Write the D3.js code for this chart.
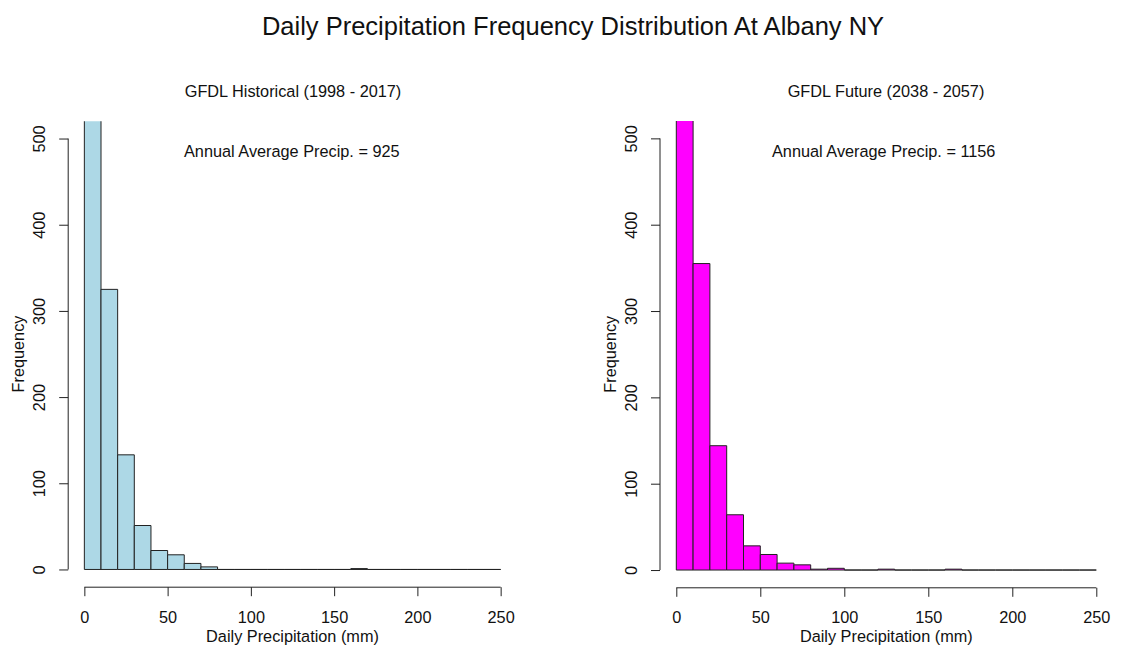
<!DOCTYPE html>
<html>
<head>
<meta charset="utf-8">
<script src="https://cdn.jsdelivr.net/npm/d3@7"></script>
<style>
  body { margin: 0; background: #fff; }
  svg { display: block; }
  text { font-family: "Liberation Sans", Arial, sans-serif; fill: #111; }
</style>
</head>
<body>
<svg id="chart" width="1125" height="650"></svg>
<script>
// Histogram bins: 10 mm wide, from 0 to 250 mm
const binEdges = d3.range(0, 260, 10);
// Daily precipitation counts per bin
const historicalCounts = [1149, 325, 133, 51, 22, 17, 7, 3, 0, 0, 0, 0, 0, 0, 0, 0, 1, 0, 0, 0, 0, 0, 0, 0, 0];
const futureCounts     = [1634, 355, 144, 64, 28, 18, 8, 6, 1, 2, 0, 0, 1, 0, 0, 0, 1, 0, 0, 0, 0, 0, 0, 0, 0];
const xTicks = [0, 50, 100, 150, 200, 250];
const yTicks = [0, 100, 200, 300, 400, 500];
const mainTitle = "Daily Precipitation Frequency Distribution At Albany NY";
const panels = [
  { title: "GFDL Historical (1998 - 2017)", note: "Annual Average Precip. = 925", counts: historicalCounts,
    fill: "#add8e6", x0: 67.7, x1: 517.3, y0: 586.7, y1: 121.3, titleX: 293, noteX: 184 },
  { title: "GFDL Future (2038 - 2057)", note: "Annual Average Precip. = 1156", counts: futureCounts,
    fill: "#ff00ff", x0: 659.5, x1: 1113.1, y0: 587.3, y1: 121.1, titleX: 886, noteX: 772 }
];

const FS = 16.3;
const svg = d3.select("#chart");

svg.append("text")
  .attr("x", 573).attr("y", 35)
  .attr("text-anchor", "middle")
  .attr("font-size", 25.5)
  .text(mainTitle);

panels.forEach((p, i) => {
  const x = d3.scaleLinear().domain([-10, 260]).range([p.x0, p.x1]);
  const y = d3.scaleLinear().domain([-20, 520]).range([p.y0, p.y1]);
  const g = svg.append("g");

  const clipId = "clip" + i;
  svg.append("clipPath").attr("id", clipId)
    .append("rect")
    .attr("x", p.x0).attr("y", p.y1)
    .attr("width", p.x1 - p.x0).attr("height", p.y0 - p.y1);

  const bins = p.counts.map((c, k) => ({ lo: binEdges[k], hi: binEdges[k + 1], n: c }));

  // each bar as an outlined path so empty bins still show as a flat line
  g.append("g").attr("clip-path", `url(#${clipId})`)
    .selectAll("path").data(bins).join("path")
    .attr("d", d => `M${x(d.lo)},${y(0)}V${y(d.n)}H${x(d.hi)}V${y(0)}Z`)
    .attr("fill", p.fill)
    .attr("stroke", "#222")
    .attr("stroke-width", 1);

  // x axis
  const xAxis = g.append("g")
    .attr("transform", `translate(0,${p.y0 + 0.5})`)
    .call(d3.axisBottom(x).tickValues(xTicks).tickSize(9).tickPadding(15).tickFormat(d3.format("d")));
  xAxis.select(".domain").attr("d", `M${x(0)},0H${x(250)}`).attr("stroke", "#222");
  xAxis.selectAll(".tick line").attr("stroke", "#222");
  xAxis.selectAll("text").attr("font-size", FS).attr("fill", "#111")
    .style("font-family", '"Liberation Sans", Arial, sans-serif');

  // y axis
  const yAxis = g.append("g")
    .attr("transform", `translate(${p.x0 + 0.5},0)`)
    .call(d3.axisLeft(y).tickValues(yTicks).tickSize(9).tickFormat(d3.format("d")));
  yAxis.select(".domain").attr("d", `M0,${y(0)}V${y(500)}`).attr("stroke", "#222");
  yAxis.selectAll(".tick line").attr("stroke", "#222");
  yAxis.selectAll("text")
    .attr("font-size", FS).attr("fill", "#111")
    .style("font-family", '"Liberation Sans", Arial, sans-serif')
    .attr("x", null).attr("dy", null)
    .attr("text-anchor", "middle")
    .attr("transform", "translate(-23,0) rotate(-90)");

  // labels
  g.append("text")
    .attr("x", (x(0) + x(250)) / 2).attr("y", p.y0 + 55)
    .attr("text-anchor", "middle").attr("font-size", FS)
    .text("Daily Precipitation (mm)");
  g.append("text")
    .attr("transform", `translate(${p.x0 - 44},${(y(0) + y(500)) / 2}) rotate(-90)`)
    .attr("text-anchor", "middle").attr("font-size", FS)
    .text("Frequency");
  g.append("text")
    .attr("x", p.titleX).attr("y", 97)
    .attr("text-anchor", "middle").attr("font-size", FS)
    .text(p.title);
  g.append("text")
    .attr("x", p.noteX).attr("y", 157)
    .attr("font-size", FS)
    .text(p.note);
});
</script>
</body>
</html>
